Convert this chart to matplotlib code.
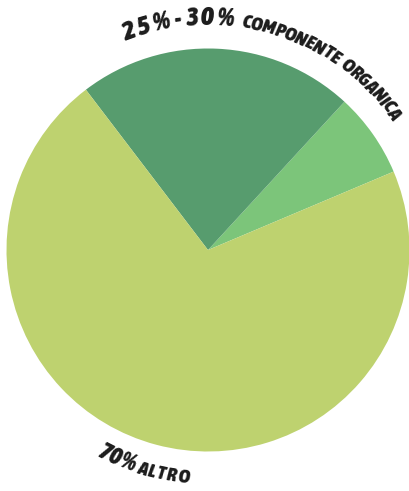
import matplotlib
matplotlib.use('Agg')
import matplotlib.pyplot as plt
import numpy as np
from matplotlib import font_manager as fm
from matplotlib.font_manager import FontProperties, findfont, get_font

# ---- data ----
categories = ['Componente minerale', 'Componente organica', 'Altro']
values = [6.8, 22.2, 71.0]
colors = ['#7cc57a', '#579c6e', '#bed26f']
top_label_big = '25% - 30%'
top_label_small = 'COMPONENTE ORGANICA'
bottom_label_big = '70%'
bottom_label_small = 'ALTRO'

W, H = 410, 491
fig = plt.figure(figsize=(W / 100, H / 100), dpi=100)
ax = fig.add_axes([0, 0, 1, 1])
cx, cy, R = 208, H - 250, 201.5
ax.pie(values, colors=colors, startangle=22.9, counterclock=True,
       center=(cx, cy), radius=R, wedgeprops=dict(linewidth=0))
ax.set_xlim(0, W)
ax.set_ylim(0, H)
ax.set_aspect('equal')
ax.axis('off')


def _wnum(w):
    if isinstance(w, (int, float)):
        return w
    return {'bold': 700, 'heavy': 800, 'black': 900, 'extra bold': 800,
            'semibold': 600, 'demibold': 600}.get(str(w).lower(), 400)


def pick_font():
    best = None
    for f in fm.fontManager.ttflist:
        n = f.name.lower()
        cond = ('condensed' in n or 'narrow' in n or
                'condensed' in str(f.stretch))
        if not cond:
            continue
        w = _wnum(f.weight)
        if w < 600:
            continue
        score = w / 100 + (2 if f.style in ('italic', 'oblique') else 0)
        if best is None or score > best[0]:
            best = (score, f.fname)
    if best:
        return best[1]
    return findfont(FontProperties(family='Liberation Sans', weight='bold',
                                   style='italic'))


FONT_PATH = pick_font()


def advances(text, size, space_mult):
    font = get_font(FONT_PATH)
    font.set_size(size, 72)
    out = []
    for c in text:
        g = font.load_char(ord(c))
        a = g.linearHoriAdvance / 65536 * 100 / 72
        if c == ' ':
            a *= space_mult
        out.append(a)
    return out


def curved(text, size, r, a_start, a_end, min_k=0.92, space_mult=1.0):
    L = np.deg2rad(abs(a_start - a_end)) * r
    adv = advances(text, size, space_mult)
    k = L / sum(adv)
    if k < min_k:
        size = size * k / min_k
        adv = advances(text, size, space_mult)
        k = L / sum(adv)
    sign = -1 if a_end < a_start else 1
    s = 0.0
    for c, a in zip(text, adv):
        a *= k
        mid = s + a / 2
        th = np.deg2rad(a_start) + sign * mid / r
        x = cx + r * np.cos(th)
        y = cy + r * np.sin(th)
        rot = np.rad2deg(th) - 90 if sign < 0 else np.rad2deg(th) + 90
        if c != ' ':
            ax.text(x, y, c, fontproperties=FontProperties(fname=FONT_PATH, size=size),
                    rotation=rot, rotation_mode='anchor', ha='center',
                    va='baseline', color='#1c1c1c')
        s += a


curved(top_label_big, 19.5, 225, 111.8, 83.3, space_mult=0.6)
curved(top_label_small, 14.0, 225, 81.5, 35.0, space_mult=2.0)
curved(bottom_label_big, 17.5, 234, 241.5, 251.2)
curved(bottom_label_small, 14.0, 234, 252.0, 265.5)

fig.savefig('out.png', dpi=100)
